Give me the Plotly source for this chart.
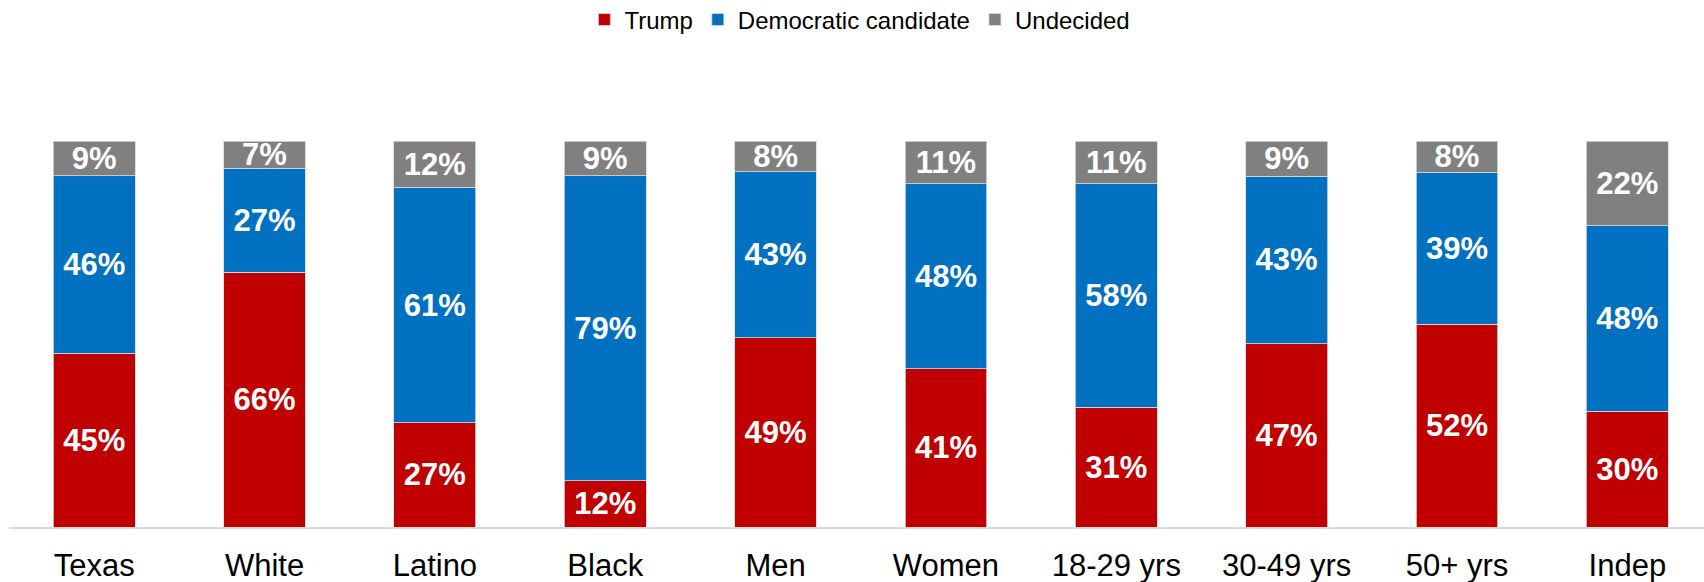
import plotly.graph_objects as go

categories = ["Texas", "White", "Latino", "Black", "Men", "Women", "18-29 yrs", "30-49 yrs", "50+ yrs", "Indep"]
trump = [45, 66, 27, 12, 49, 41, 31, 47, 52, 30]
democratic = [46, 27, 61, 79, 43, 48, 58, 43, 39, 48]
undecided = [9, 7, 12, 9, 8, 11, 11, 9, 8, 22]

series = [
    ("Trump", trump, "#C00000"),
    ("Democratic candidate", democratic, "#0070C0"),
    ("Undecided", undecided, "#808080"),
]

FONT = "Liberation Sans, Arial, sans-serif"

fig = go.Figure()
for name, vals, color in series:
    fig.add_trace(go.Bar(
        name=name,
        x=categories,
        y=vals,
        text=vals,
        texttemplate="<b>%{text}%</b>",
        textposition="inside",
        insidetextanchor="middle",
        constraintext="none",
        textangle=0,
        textfont=dict(family=FONT, size=31, color="white"),
        marker=dict(color=color, line=dict(color="#D9D9D9", width=0.8)),
        width=0.48,
        cliponaxis=False,
    ))

fig.update_layout(
    barmode="stack",
    barnorm="percent",
    width=1704,
    height=582,
    margin=dict(l=9, r=0, t=141, b=55, autoexpand=False),
    paper_bgcolor="white",
    plot_bgcolor="white",
    font=dict(family=FONT, color="black"),
    showlegend=True,
    legend=dict(
        orientation="h",
        x=0.502, xanchor="center",
        y=1.372, yref="paper", yanchor="top",
        font=dict(family=FONT, size=24, color="black"),
        itemwidth=30,
        traceorder="normal",
    ),
    xaxis=dict(
        range=[-0.5, 9.45],
        showgrid=False,
        showline=True,
        linecolor="#D9D9D9",
        linewidth=1.5,
        ticks="",
        tickfont=dict(family=FONT, size=31, color="black"),
        ticklabelstandoff=10,
        automargin=False,
        fixedrange=True,
    ),
    yaxis=dict(
        range=[0, 100.02],
        showgrid=False,
        showticklabels=False,
        zeroline=False,
        showline=False,
        automargin=False,
        fixedrange=True,
    ),
)

fig.write_html(
    "out.html",
    config={"displayModeBar": False},
    post_script="document.body.style.margin='0';document.body.style.overflow='hidden';",
)
